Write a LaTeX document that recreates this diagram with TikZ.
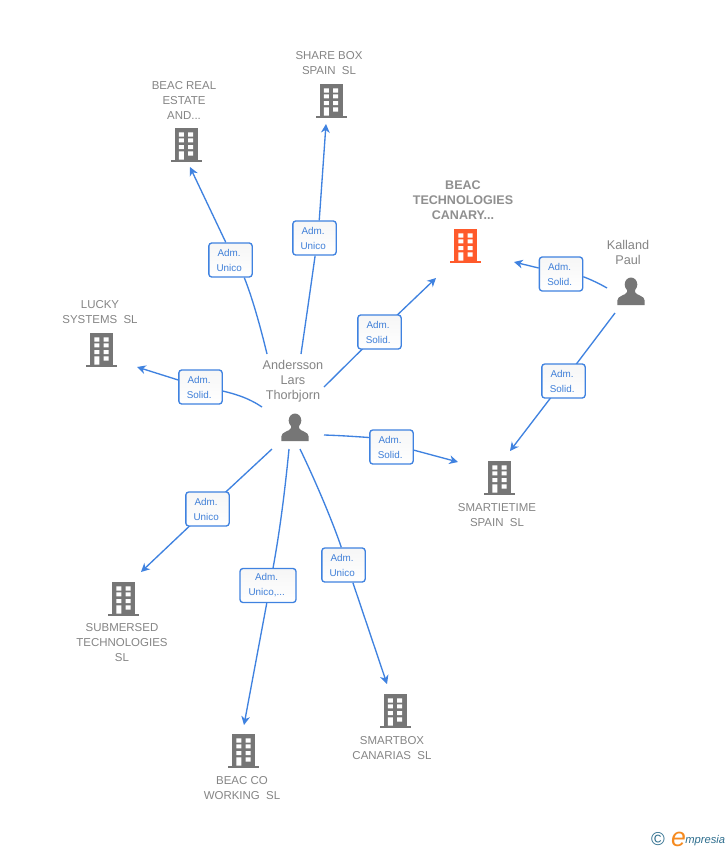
\documentclass[tikz,border=0pt]{standalone}
\usepackage{fontspec}
\setmainfont{Liberation Sans}
\usetikzlibrary{arrows.meta,backgrounds}
\definecolor{lineblue}{HTML}{3F82E0}
\definecolor{textblue}{HTML}{3F7FD8}
\definecolor{greytext}{HTML}{858585}
\definecolor{boldgrey}{HTML}{8F8F8F}
\definecolor{icongrey}{HTML}{767676}
\definecolor{iconorange}{HTML}{FF5A2B}
\definecolor{logoteal}{HTML}{2E6E8E}
\definecolor{logoorange}{HTML}{F58A1F}
\definecolor{labeltop}{HTML}{F6F6F6}
\newcommand{\lsh}{\hspace*{2pt}}
\tikzset{
  conn/.style={draw=lineblue,line width=1pt},
  connarrow/.style={conn,-{Stealth[length=6.5,width=6.5,inset=2]}},
  rolelabel/.style={draw=lineblue,line width=1pt,rounded corners=2.2pt,top color=labeltop,bottom color=white,
    text=textblue,align=center,inner sep=0pt,minimum height=25.5pt,
    font={\fontsize{7.4}{11.25}\selectfont}},
  rolewide/.style={rolelabel,minimum width=42pt},
  rolenarrow/.style={rolelabel,minimum width=32.5pt},
  nametext/.style={text=greytext,align=center,inner sep=0pt,font={\fontsize{8.6}{11.25}\selectfont}},
  nametextbold/.style={text=boldgrey,align=center,inner sep=0pt,font={\fontsize{9.4}{11.25}\bfseries\selectfont}},
  persontext/.style={text=greytext,align=center,inner sep=0pt,font={\fontsize{9.5}{11.25}\selectfont}},
  iconspot/.style={inner sep=0pt,minimum width=24pt,minimum height=25pt},
  pics/building/.style={code={
    \fill[#1] (-11.5,-17) rectangle (11.5,14.5);
    \fill[#1] (-15.5,14.5) rectangle (15.5,17);
    \fill[white] (-7.2,-12.7) rectangle (-2.2,-8.3) (2.2,-12.7) rectangle (7.2,-8.3)
                 (-7.2,-6.7) rectangle (-2.2,-2.7) (2.2,-6.7) rectangle (7.2,-2.7)
                 (-7.2,0) rectangle (-2.2,4)       (2.2,0) rectangle (7.2,4)
                 (-7.2,6.3) rectangle (-2.2,14.5)  (2.2,6.3) rectangle (7.2,10.7);
  }},
  pics/personicon/.style={code={
    \fill[icongrey] (0,-7.5) circle[x radius=6.3,y radius=7];
    \fill[icongrey] (-13.7,13) -- (-13.7,8.5) .. controls (-13.7,3.5) and (-5,3.5) .. (-4,0)
        -- (-4,-3) -- (4,-3) -- (4,0) .. controls (5,3.5) and (13.7,3.5) .. (13.7,8.5) -- (13.7,13) -- cycle;
  }}
}
\begin{document}
\begin{tikzpicture}[x=0.75pt,y=-0.75pt]
\useasboundingbox (0,0) rectangle (728,850);

% icons
\node[iconspot] (andersson) at (295,428) {};
\pic at (295,428) {personicon};
\node[iconspot] (kalland) at (631,292) {};
\pic at (631,292) {personicon};
\node[iconspot] (sharebox) at (331,101) {};
\pic at (331,101) {building=icongrey};
\node[iconspot] (beacreal) at (186,145) {};
\pic at (186,145) {building=icongrey};
\node[iconspot] (beactech) at (465.5,246) {};
\pic at (465.5,246) {building=iconorange};
\node[iconspot] (lucky) at (101.5,350) {};
\pic at (101.5,350) {building=icongrey};
\node[iconspot] (smartie) at (499.5,478) {};
\pic at (499.5,478) {building=icongrey};
\node[iconspot] (submersed) at (123.5,599) {};
\pic at (123.5,599) {building=icongrey};
\node[iconspot] (beacco) at (243.5,751) {};
\pic at (243.5,751) {building=icongrey};
\node[iconspot] (smartbox) at (395,711) {};
\pic at (395,711) {building=icongrey};

% names
\node[nametext] (tsharebox) at (329,63.5) {SHARE BOX\\SPAIN\ \ SL};
\node[nametext] (tbeacreal) at (184,100) {BEAC REAL\\ESTATE\\AND...};
\node[nametextbold] (tbeactech) at (463,200.5) {BEAC\\TECHNOLOGIES\\CANARY...};
\node[nametext] (tlucky) at (100,312.5) {LUCKY\\SYSTEMS\ \ SL};
\node[nametext] (tsmartie) at (497,515.5) {SMARTIETIME\\SPAIN\ \ SL};
\node[nametext] (tsubmersed) at (122,643) {SUBMERSED\\TECHNOLOGIES\\SL};
\node[nametext] (tbeacco) at (242,788.5) {BEAC CO\\WORKING\ \ SL};
\node[nametext] (tsmartbox) at (392,748.5) {SMARTBOX\\CANARIAS\ \ SL};
\node[persontext] (tandersson) at (293,381) {Andersson\\Lars\\Thorbjorn};
\node[persontext] (tkalland) at (628,252.5) {Kalland\\Paul};

% role labels
\node[rolenarrow] (r1) at (230.5,260) {Adm.\lsh\\Unico\lsh};
\node[rolenarrow] (r2) at (314.5,238) {Adm.\lsh\\Unico\lsh};
\node[rolenarrow] (r3) at (379.5,332) {Adm.\lsh\\Solid.\lsh};
\node[rolenarrow] (r4) at (200.5,387) {Adm.\lsh\\Solid.\lsh};
\node[rolenarrow] (r5) at (391.5,447) {Adm.\lsh\\Solid.\lsh};
\node[rolenarrow] (r6) at (207.5,509) {Adm.\lsh\\Unico\lsh};
\node[rolewide]   (r7) at (268,585.5) {Adm.\lsh\\Unico,...\lsh};
\node[rolenarrow] (r8) at (343.5,565) {Adm.\lsh\\Unico\lsh};
\node[rolenarrow] (r9) at (561,274) {Adm.\lsh\\Solid.\lsh};
\node[rolenarrow] (r10) at (563.5,381) {Adm.\lsh\\Solid.\lsh};

% free ends of connectors
\coordinate (s1) at (267,354); \coordinate (e1) at (190,167);
\coordinate (s2) at (301,354); \coordinate (e2) at (326,124);
\coordinate (s3) at (324,387); \coordinate (e3) at (436,278);
\coordinate (s4) at (262,407); \coordinate (e4) at (137,367);
\coordinate (s5) at (324,435); \coordinate (e5) at (458,462);
\coordinate (s6) at (272,449); \coordinate (e6) at (141,572);
\coordinate (s7) at (289,449); \coordinate (e7) at (244,725);
\coordinate (s8) at (300,449); \coordinate (e8) at (387,684);
\coordinate (s9) at (607,288); \coordinate (e9) at (514,262);
\coordinate (s10) at (615,313); \coordinate (e10) at (510,451);

\begin{scope}[on background layer]
  \fill[white] (0,0) rectangle (728,850);
  \draw[conn] (s1) .. controls (260,325) and (252,297) .. (r1.-52);
  \draw[connarrow] (r1.105) -- (e1);
  \draw[conn] (s2) .. controls (306,320) and (311,285) .. (r2.-88);
  \draw[connarrow] (r2.75) -- (e2);
  \draw[connarrow] (s3) -- (r3.center) -- (e3);
  \draw[conn] (s4) .. controls (250,399) and (235,392) .. (r4.center);
  \draw[connarrow] (r4.center) -- (e4);
  \draw[conn] (s5) .. controls (340,435.5) and (355,436.5) .. (r5.157);
  \draw[connarrow] (r5.-8) -- (e5);
  \draw[connarrow] (s6) -- (r6.center) -- (e6);
  \draw[conn] (s7) .. controls (285,490) and (280,530) .. (r7.74);
  \draw[connarrow] (r7.266) -- (e7);
  \draw[conn] (s8) .. controls (315,480) and (332,520) .. (r8.97);
  \draw[connarrow] (r8.-62) -- (e8);
  \draw[conn] (s9) .. controls (600,284) and (592,280) .. (r9.-7);
  \draw[connarrow] (r9.165) -- (e9);
  \draw[connarrow] (s10) -- (r10.center) -- (e10);
\end{scope}

% logo
\node[text=logoteal,inner sep=0pt,font={\fontsize{14}{14}\selectfont}] (logoc) at (658,839.5) {©};
\node[text=logoorange,inner sep=0pt,font={\fontsize{20}{20}\itshape\selectfont}] (logoe) at (678.5,839) {e};
\node[text=logoteal,inner sep=0pt,anchor=base west,font={\fontsize{8.4}{12}\itshape\selectfont}] (logot) at (685,843.5) {mpresia};
\end{tikzpicture}
\end{document}
